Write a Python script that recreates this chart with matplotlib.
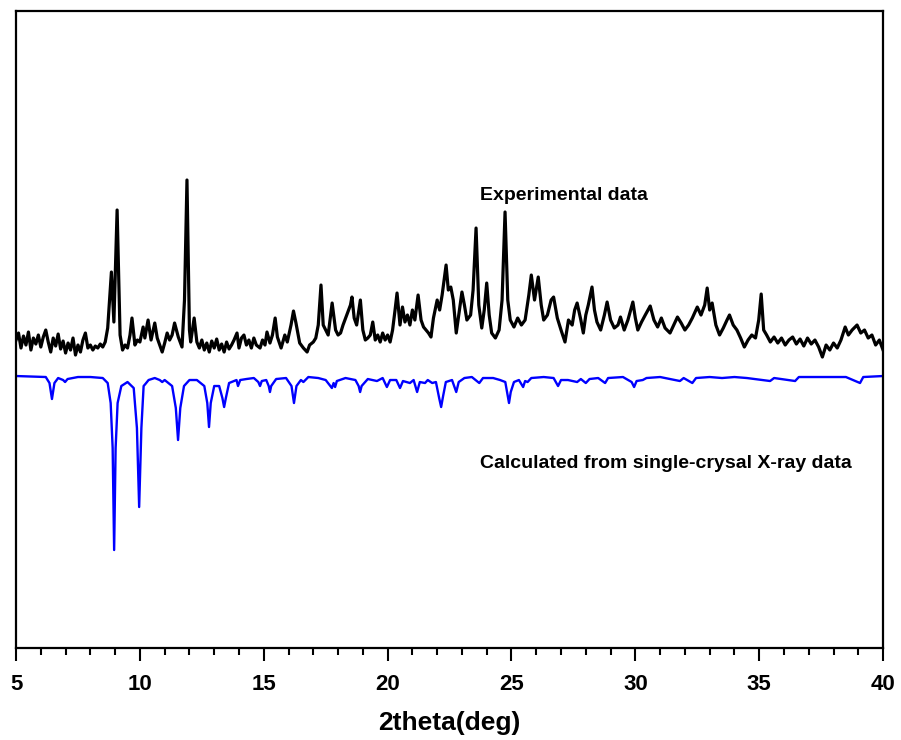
import matplotlib
matplotlib.use("Agg")
import matplotlib.pyplot as plt
from matplotlib.ticker import MultipleLocator

# Experimental powder pattern (2theta in deg, intensity in arbitrary units)
exp_2theta = [
    5.0, 5.1, 5.2, 5.3, 5.4, 5.5, 5.6, 5.7, 5.8, 5.9,
    6.0, 6.1, 6.2, 6.3, 6.4, 6.5, 6.6, 6.7, 6.8, 6.9,
    7.0, 7.1, 7.2, 7.3, 7.4, 7.5, 7.6, 7.7, 7.8, 7.9,
    8.0, 8.1, 8.2, 8.3, 8.4, 8.5, 8.6, 8.7, 8.8, 8.85,
    8.95, 9.08, 9.2, 9.3, 9.4, 9.5, 9.6, 9.68, 9.8, 9.9,
    10.0, 10.13, 10.2, 10.33, 10.45, 10.6, 10.7, 10.8, 10.9, 11.0,
    11.1, 11.2, 11.3, 11.4, 11.55, 11.7, 11.8, 11.9, 12.0, 12.05,
    12.19, 12.3, 12.4, 12.5, 12.6, 12.7, 12.8, 12.9, 13.0, 13.1,
    13.2, 13.3, 13.4, 13.5, 13.6, 13.7, 13.8, 13.92, 14.0, 14.1,
    14.2, 14.3, 14.4, 14.5, 14.6, 14.7, 14.85, 14.95, 15.05, 15.13,
    15.25, 15.35, 15.46, 15.55, 15.7, 15.85, 15.95, 16.1, 16.2, 16.3,
    16.45, 16.6, 16.75, 16.85, 17.0, 17.1, 17.2, 17.31, 17.4, 17.5,
    17.6, 17.76, 17.9, 18.0, 18.1, 18.2, 18.35, 18.5, 18.56, 18.65,
    18.75, 18.9, 19.0, 19.1, 19.2, 19.3, 19.4, 19.5, 19.6, 19.7,
    19.8, 19.9, 20.0, 20.1, 20.2, 20.3, 20.38, 20.5, 20.6, 20.7,
    20.8, 20.9, 21.0, 21.1, 21.23, 21.35, 21.45, 21.55, 21.65, 21.75,
    21.85, 22.0, 22.1, 22.2, 22.36, 22.45, 22.55, 22.65, 22.77, 22.9,
    23.0, 23.1, 23.2, 23.35, 23.45, 23.57, 23.68, 23.8, 23.9, 24.0,
    24.1, 24.2, 24.35, 24.5, 24.62, 24.74, 24.85, 24.95, 25.1, 25.25,
    25.4, 25.55, 25.7, 25.8, 25.93, 26.08, 26.2, 26.3, 26.45, 26.6,
    26.7, 26.85, 27.0, 27.16, 27.3, 27.45, 27.55, 27.65, 27.8, 27.9,
    28.0, 28.1, 28.25, 28.35, 28.45, 28.6, 28.75, 28.86, 29.0, 29.15,
    29.3, 29.4, 29.55, 29.7, 29.9, 30.0, 30.1, 30.25, 30.4, 30.6,
    30.75, 30.9, 31.05, 31.2, 31.4, 31.55, 31.7, 31.85, 32.0, 32.15,
    32.3, 32.5, 32.65, 32.8, 32.9, 33.0, 33.1, 33.25, 33.4, 33.55,
    33.7, 33.8, 33.95, 34.1, 34.25, 34.4, 34.55, 34.7, 34.85, 34.98,
    35.08, 35.18, 35.3, 35.45, 35.6, 35.75, 35.9, 36.05, 36.2, 36.35,
    36.5, 36.65, 36.8, 36.95, 37.1, 37.25, 37.4, 37.55, 37.7, 37.85,
    38.0, 38.15, 38.3, 38.47, 38.6, 38.75, 38.95, 39.1, 39.25, 39.4,
    39.55, 39.7, 39.85, 40.0,
]
exp_intensity = [
    308, 315, 300, 312, 303, 316, 298, 310, 304, 313,
    301, 311, 318, 306, 296, 310, 302, 314, 299, 307,
    295, 305, 298, 310, 293, 303, 296, 308, 315, 300,
    303, 298, 302, 300, 304, 301, 306, 320, 358, 376,
    326, 438, 313, 298, 303, 300, 313, 330, 303, 308,
    306, 321, 310, 328, 308, 325, 310, 303, 296, 305,
    315, 308, 313, 325, 311, 301, 348, 468, 318, 306,
    330, 306, 300, 308, 298, 305, 296, 307, 300, 309,
    298, 304, 296, 306, 299, 303, 308, 315, 300, 310,
    313, 303, 308, 300, 310, 303, 300, 308, 303, 316,
    305, 313, 330, 311, 300, 313, 306, 323, 337, 325,
    305, 300, 296, 303, 306, 310, 323, 363, 323, 318,
    313, 345, 318, 313, 315, 323, 333, 343, 351, 330,
    323, 348, 318, 308, 310, 313, 326, 308, 313, 306,
    315, 308, 313, 306, 318, 338, 355, 323, 341, 326,
    333, 323, 338, 328, 353, 328, 321, 318, 315, 311,
    330, 348, 338, 353, 383, 358, 361, 348, 315, 338,
    356, 343, 328, 333, 358, 420, 343, 320, 338, 365,
    333, 315, 310, 318, 348, 436, 348, 328, 321, 330,
    323, 328, 353, 373, 348, 371, 343, 328, 333, 348,
    351, 330, 318, 306, 328, 323, 338, 345, 328, 315,
    333, 343, 361, 338, 326, 318, 333, 346, 328, 320,
    323, 331, 318, 328, 346, 330, 318, 326, 333, 342,
    328, 321, 330, 320, 315, 323, 331, 325, 318, 323,
    330, 341, 333, 343, 360, 338, 345, 323, 313, 320,
    328, 333, 323, 318, 310, 301, 308, 313, 310, 328,
    354, 318, 313, 306, 311, 305, 310, 303, 308, 311,
    304, 309, 302, 310, 304, 308, 301, 291, 303, 298,
    305, 300, 308, 321, 313, 318, 323, 315, 318, 310,
    313, 303, 308, 298,
]

# Pattern calculated from the single-crystal structure (drawn inverted)
calc_2theta = [
    5.0, 6.2, 6.35, 6.45, 6.55, 6.7, 6.9, 6.98, 7.08, 7.5,
    8.0, 8.5, 8.7, 8.82, 8.9, 8.96, 9.02, 9.1, 9.25, 9.5,
    9.75, 9.88, 9.97, 10.06, 10.15, 10.22, 10.35, 10.6, 10.8, 10.9,
    11.0, 11.3, 11.45, 11.54, 11.63, 11.78, 12.0, 12.3, 12.6, 12.72,
    12.79, 12.86, 13.0, 13.2, 13.33, 13.4, 13.47, 13.6, 13.9, 13.96,
    14.05, 14.3, 14.6, 14.78, 14.85, 14.92, 15.1, 15.2, 15.25, 15.3,
    15.5, 15.9, 16.12, 16.22, 16.32, 16.5, 16.6, 16.8, 17.2, 17.5,
    17.75, 17.82, 17.88, 17.95, 18.3, 18.7, 18.83, 18.89, 18.95, 19.2,
    19.57, 19.8, 19.97, 20.1, 20.35, 20.5, 20.62, 20.9, 21.05, 21.19,
    21.3, 21.51, 21.62, 21.8, 21.95, 22.08, 22.16, 22.24, 22.35, 22.6,
    22.77, 22.87, 23.1, 23.4, 23.7, 23.85, 24.26, 24.54, 24.75, 24.83,
    24.9, 24.97, 25.1, 25.3, 25.47, 25.55, 25.65, 25.8, 26.3, 26.7,
    26.88, 27.0, 27.28, 27.65, 27.8, 28.0, 28.15, 28.5, 28.78, 28.9,
    29.5, 29.85, 29.95, 30.05, 30.3, 30.45, 31.0, 31.8, 31.95, 32.3,
    32.45, 33.0, 33.5, 34.0, 34.5, 35.44, 35.6, 36.45, 36.6, 37.5,
    38.5, 39.07, 39.2, 40.0,
]
calc_intensity = [
    272, 271, 265, 249, 265, 270, 268, 266, 269, 271,
    271, 270, 265, 245, 200, 98, 200, 245, 262, 266,
    260, 220, 141, 220, 262, 264, 268, 270, 268, 266,
    268, 262, 240, 208, 240, 262, 268, 268, 262, 245,
    221, 245, 262, 262, 250, 241, 250, 265, 268, 262,
    268, 269, 270, 266, 262, 267, 268, 262, 256, 262,
    269, 270, 262, 245, 262, 268, 266, 271, 270, 268,
    260, 265, 261, 267, 270, 268, 262, 256, 262, 269,
    267, 270, 261, 268, 268, 260, 267, 265, 268, 256,
    266, 265, 268, 265, 266, 250, 241, 252, 266, 268,
    256, 266, 270, 271, 265, 270, 270, 268, 266, 255,
    245, 256, 266, 268, 261, 267, 266, 270, 271, 270,
    262, 268, 268, 266, 269, 265, 269, 270, 265, 270,
    271, 266, 261, 267, 268, 270, 271, 267, 270, 265,
    270, 271, 270, 271, 270, 267, 270, 267, 271, 271,
    271, 265, 271, 272,
]

x_ticks = [5, 10, 15, 20, 25, 30, 35, 40]

plt.rcParams["font.family"] = ["Liberation Sans", "DejaVu Sans"]
plt.rcParams["font.weight"] = "bold"

figure = plt.figure(figsize=(9.01, 7.40), dpi=100)
axis = figure.add_axes([0.0178, 0.1243, 0.9623, 0.8608])

axis.plot(exp_2theta, exp_intensity, color="black", linewidth=2.3)
axis.plot(calc_2theta, calc_intensity, color="#0000ff", linewidth=1.7)

axis.text(23.73, 453, "Experimental data", fontsize=14,
          fontweight="bold", ha="left", va="center")
axis.text(23.73, 185, "Calculated from single-crysal X-ray data",
          fontsize=14, fontweight="bold", ha="left", va="center")

axis.set_xlim(5, 40)
axis.set_ylim(0, 637)
axis.set_xticks(x_ticks)
axis.set_xticklabels([str(t) for t in x_ticks])
axis.xaxis.set_minor_locator(MultipleLocator(1))
axis.set_yticks([])
axis.set_xlabel("2theta(deg)", fontsize=19, fontweight="bold", labelpad=12)

axis.tick_params(axis="x", which="major", direction="out", length=9.5,
                 width=1.5, labelsize=16, pad=9)
axis.tick_params(axis="x", which="minor", direction="out", length=5,
                 width=1.5)
for spine in axis.spines.values():
    spine.set_linewidth(1.6)

figure.savefig("out.png", dpi=100)
plt.close(figure)
